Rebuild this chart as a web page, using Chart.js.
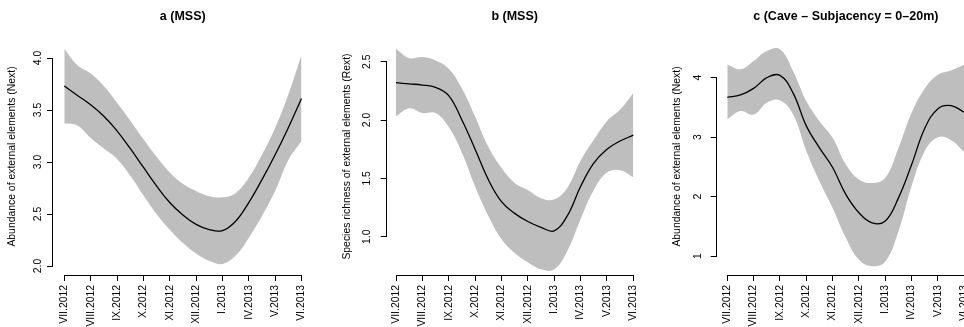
<!DOCTYPE html>
<html>
<head>
<meta charset="utf-8">
<script src="https://cdn.jsdelivr.net/npm/chart.js@4.4.1/dist/chart.umd.min.js"></script>
<style>
  html, body { margin: 0; padding: 0; background: #fff; width: 964px; height: 327px; overflow: hidden; position: relative; }
  canvas { position: absolute; top: 0; }
</style>
</head>
<body>
<canvas id="chartA" width="321" height="327" style="left:0px"></canvas>
<canvas id="chartB" width="330" height="327" style="left:321px"></canvas>
<canvas id="chartC" width="345" height="327" style="left:642px"></canvas>
<script>
// month labels on the x axis
const monthLabels = ['VII.2012', 'VIII.2012', 'IX.2012', 'X.2012', 'XI.2012', 'XII.2012', 'I.2013', 'IV.2013', 'V.2013', 'VI.2013'];
const monthTicks = [0, 1, 2, 3, 4, 5, 6, 7, 8, 9];
const samplePos = [0, 0.5, 1, 1.5, 2, 2.5, 3, 3.5, 4, 4.5, 5, 5.5, 6, 6.5, 7, 7.5, 8, 8.5, 9];

// a (MSS) - abundance
const aFit   = [3.73, 3.64, 3.55, 3.44, 3.30, 3.13, 2.95, 2.77, 2.61, 2.49, 2.40, 2.35, 2.34, 2.43, 2.61, 2.83, 3.07, 3.33, 3.61];
const aUpper = [4.09, 3.93, 3.85, 3.73, 3.57, 3.40, 3.22, 3.05, 2.90, 2.79, 2.72, 2.67, 2.66, 2.70, 2.85, 3.07, 3.33, 3.65, 4.03];
const aLower = [3.37, 3.35, 3.23, 3.13, 3.03, 2.87, 2.68, 2.50, 2.35, 2.22, 2.12, 2.05, 2.02, 2.10, 2.27, 2.48, 2.72, 3.02, 3.20];
const aTicks = [2.0, 2.5, 3.0, 3.5, 4.0];

// b (MSS) - species richness
const bFit   = [2.32, 2.31, 2.30, 2.28, 2.21, 2.00, 1.75, 1.49, 1.30, 1.20, 1.13, 1.08, 1.05, 1.18, 1.43, 1.63, 1.75, 1.82, 1.87];
const bUpper = [2.61, 2.53, 2.54, 2.51, 2.44, 2.27, 2.03, 1.77, 1.59, 1.46, 1.40, 1.33, 1.32, 1.42, 1.65, 1.83, 1.99, 2.09, 2.23];
const bLower = [2.03, 2.10, 2.06, 2.06, 1.94, 1.72, 1.43, 1.18, 0.98, 0.86, 0.78, 0.72, 0.72, 0.88, 1.15, 1.40, 1.55, 1.57, 1.51];
const bTicks = [1.0, 1.5, 2.0, 2.5];

// c (Cave) - abundance
const cFit   = [3.67, 3.71, 3.82, 4.00, 4.04, 3.74, 3.19, 2.82, 2.49, 2.04, 1.73, 1.56, 1.59, 1.98, 2.54, 3.15, 3.48, 3.53, 3.42];
const cUpper = [4.22, 4.14, 4.28, 4.45, 4.48, 4.11, 3.61, 3.27, 2.99, 2.54, 2.29, 2.23, 2.32, 2.82, 3.41, 3.82, 4.05, 4.12, 4.22];
const cLower = [3.30, 3.44, 3.38, 3.58, 3.62, 3.38, 2.77, 2.26, 1.81, 1.31, 0.94, 0.83, 0.91, 1.42, 2.18, 2.77, 3.00, 2.95, 2.75];
const cTicks = [1, 2, 3, 4];

const FONT = "'Liberation Sans', Arial, Helvetica, sans-serif";
const AREA_TOP = 38, AREA_BOTTOM = 275, CANVAS_H = 327;

// R-style axis lines that only run from the first to the last tick
const axisLines = {
  id: 'axisLines',
  afterDraw(chart, args, opts) {
    const { ctx, chartArea } = chart;
    const xs = chart.scales.x, ys = chart.scales.y;
    ctx.save();
    ctx.strokeStyle = '#000';
    ctx.lineWidth = 1;
    ctx.beginPath();
    const yb = Math.round(chartArea.bottom) + 0.5;
    ctx.moveTo(xs.getPixelForValue(opts.xFrom), yb);
    ctx.lineTo(xs.getPixelForValue(opts.xTo), yb);
    const xl = Math.round(chartArea.left) - 0.5;
    ctx.moveTo(xl, ys.getPixelForValue(opts.yFrom));
    ctx.lineTo(xl, ys.getPixelForValue(opts.yTo));
    ctx.stroke();
    ctx.restore();
  }
};

function pts(arr) {
  return samplePos.map((x, i) => ({ x: x, y: arr[i] }));
}

function makePanel(id, p) {
  const unit = (p.x9 - p.x0) / 9;
  const xMin = -(p.x0 - p.axisW) / unit;
  const xMax = 9 + (p.areaRight - p.x9) / unit;
  const perUnit = (p.yLoPx - p.yHiPx) / (p.yHi - p.yLo);
  const yMax = p.yHi + (p.yHiPx - AREA_TOP) / perUnit;
  const yMin = p.yLo - (AREA_BOTTOM - p.yLoPx) / perUnit;
  const canvas = document.getElementById(id);

  new Chart(canvas, {
    type: 'line',
    data: {
      datasets: [
        { data: pts(p.fit), borderColor: '#000', borderWidth: 1.3, pointRadius: 0, fill: false, tension: 0.4 },
        { data: pts(p.upper), borderWidth: 0, borderColor: 'rgba(0,0,0,0)', pointRadius: 0, backgroundColor: '#bebebe', fill: '+1', tension: 0.4 },
        { data: pts(p.lower), borderWidth: 0, borderColor: 'rgba(0,0,0,0)', pointRadius: 0, fill: false, tension: 0.4 }
      ]
    },
    options: {
      responsive: false,
      animation: false,
      events: [],
      layout: { padding: { left: 0, top: 0, bottom: 0, right: canvas.width - p.areaRight } },
      plugins: {
        legend: { display: false },
        tooltip: { enabled: false },
        title: {
          display: true,
          text: p.title,
          fullSize: false,
          color: '#000',
          font: { family: FONT, size: 12.5, weight: 'bold', lineHeight: 1.2 },
          padding: { top: 9, bottom: AREA_TOP - 9 - 15 }
        },
        axisLines: { xFrom: 0, xTo: 9, yFrom: p.ticks[0], yTo: p.ticks[p.ticks.length - 1] }
      },
      scales: {
        x: {
          type: 'linear',
          min: xMin,
          max: xMax,
          border: { display: false },
          grid: { display: true, drawOnChartArea: false, drawTicks: true, tickLength: 6, color: '#000', lineWidth: 1 },
          afterBuildTicks: (s) => { s.ticks = monthTicks.map(v => ({ value: v })); },
          afterFit: (s) => { s.height = CANVAS_H - AREA_BOTTOM; s.paddingLeft = 0; s.paddingRight = 0; },
          ticks: {
            autoSkip: false,
            minRotation: 90,
            maxRotation: 90,
            padding: 4,
            color: '#000',
            font: { family: FONT, size: 10.4 },
            callback: (v) => monthLabels[v]
          }
        },
        y: {
          type: 'linear',
          min: yMin,
          max: yMax,
          border: { display: false },
          grid: { display: true, drawOnChartArea: false, drawTicks: true, tickLength: 6, color: '#000', lineWidth: 1 },
          afterBuildTicks: (s) => { s.ticks = p.ticks.map(v => ({ value: v })); },
          afterFit: (s) => { s.width = p.axisW; s.paddingTop = 0; s.paddingBottom = 0; },
          ticks: {
            minRotation: 90,
            maxRotation: 90,
            crossAlign: 'center',
            padding: p.tickPad,
            color: '#000',
            font: { family: FONT, size: 10.4 },
            callback: (v) => p.fmt(v)
          },
          title: {
            display: true,
            text: p.yTitle,
            color: '#000',
            align: 'center',
            font: { family: FONT, size: 10.4, lineHeight: 1.2 },
            padding: { top: p.titlePad, bottom: 0 }
          }
        }
      }
    },
    plugins: [axisLines]
  });
}

makePanel('chartA', {
  title: 'a (MSS)', yTitle: 'Abundance of external elements (Next)',
  fit: aFit, upper: aUpper, lower: aLower, ticks: aTicks, fmt: v => v.toFixed(1),
  axisW: 53, x0: 64.3, x9: 301.5, areaRight: 312.5,
  yHi: 4.0, yHiPx: 58, yLo: 2.0, yLoPx: 266,
  tickPad: 1.8, titlePad: 5.8
});

makePanel('chartB', {
  title: 'b (MSS)', yTitle: 'Species richness of external elements (Rext)',
  fit: bFit, upper: bUpper, lower: bLower, ticks: bTicks, fmt: v => v.toFixed(1),
  axisW: 65.7, x0: 75, x9: 312.3, areaRight: 321.6,
  yHi: 2.5, yHiPx: 61.7, yLo: 1.0, yLoPx: 236.7,
  tickPad: 6.8, titlePad: 20.3
});

makePanel('chartC', {
  title: 'c (Cave \u2013 Subjacency = 0\u201320m)', yTitle: 'Abundance of external elements (Next)',
  fit: cFit, upper: cUpper, lower: cLower, ticks: cTicks, fmt: v => String(v),
  axisW: 74.7, x0: 85.3, x9: 322.3, areaRight: 333,
  yHi: 4, yHiPx: 77.7, yLo: 1, yLoPx: 256.2,
  tickPad: 9.5, titlePad: 29.3
});
</script>
</body>
</html>
